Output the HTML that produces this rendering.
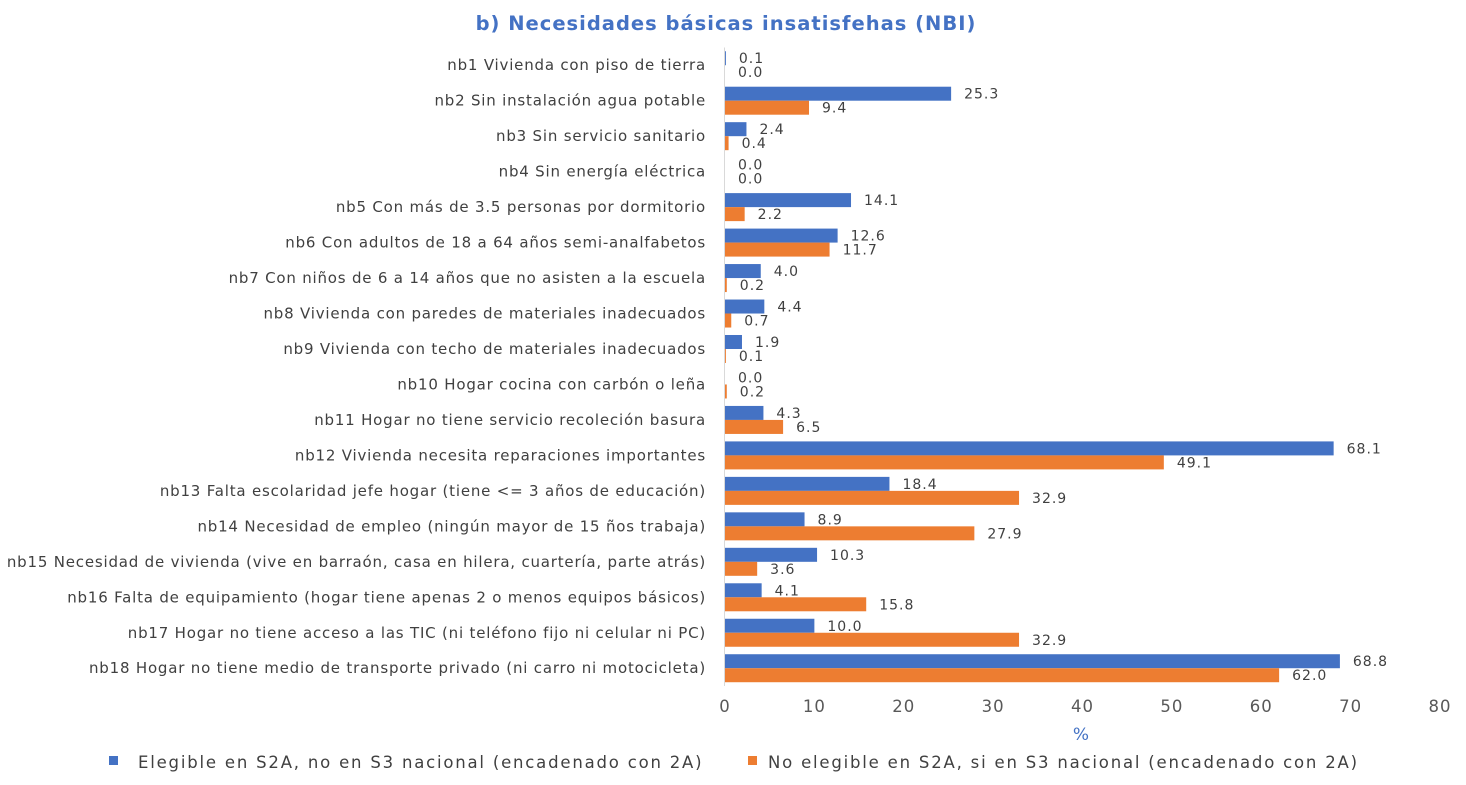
<!DOCTYPE html>
<html><head><meta charset="utf-8"><style>
html,body{margin:0;padding:0;background:#fff;}
svg{display:block;font-family:"DejaVu Sans","Liberation Sans",sans-serif;}
</style></head><body>
<svg id="chart" width="1466" height="785">
<text x="726" y="30" text-anchor="middle" font-size="19.5" font-weight="bold" letter-spacing="1" fill="#4472C4">b) Necesidades básicas insatisfehas (NBI)</text>
<g id="plot"></g>
<text x="1081" y="740" text-anchor="middle" font-size="17" fill="#4472C4">%</text>
<g>
<rect x="109" y="756" width="9" height="9" fill="#4472C4"></rect>
<text x="138" y="768" font-size="16.5" letter-spacing="1.8" fill="#404040">Elegible en S2A, no en S3 nacional (encadenado con 2A)</text>
<rect x="748" y="756" width="9" height="9" fill="#ED7D31"></rect>
<text x="768" y="768" font-size="16.5" letter-spacing="1.8" fill="#404040">No elegible en S2A, si en S3 nacional (encadenado con 2A)</text>
</g>
</svg>
<script>
const categories=["nb1 Vivienda con piso de tierra","nb2 Sin instalación agua potable","nb3 Sin servicio sanitario","nb4 Sin energía eléctrica","nb5 Con más de 3.5 personas por dormitorio","nb6 Con adultos de 18 a 64 años semi-analfabetos","nb7 Con niños de 6 a 14 años que no asisten a la escuela","nb8 Vivienda con paredes de materiales inadecuados","nb9 Vivienda con techo de materiales inadecuados","nb10 Hogar cocina con carbón o leña","nb11 Hogar no tiene servicio recoleción basura","nb12 Vivienda necesita reparaciones importantes","nb13 Falta escolaridad jefe hogar (tiene <= 3 años de educación)","nb14 Necesidad de empleo (ningún mayor de 15 ños trabaja)","nb15 Necesidad de vivienda (vive en barraón, casa en hilera, cuartería, parte atrás)","nb16 Falta de equipamiento (hogar tiene apenas 2 o menos equipos básicos)","nb17 Hogar no tiene acceso a las TIC (ni teléfono fijo ni celular ni PC)","nb18 Hogar no tiene medio de transporte privado (ni carro ni motocicleta)"];
const eligible=[0.1,25.3,2.4,0.0,14.1,12.6,4.0,4.4,1.9,0.0,4.3,68.1,18.4,8.9,10.3,4.1,10.0,68.8];
const noEligible=[0.0,9.4,0.4,0.0,2.2,11.7,0.2,0.7,0.1,0.2,6.5,49.1,32.9,27.9,3.6,15.8,32.9,62.0];
const xTicks=[0,10,20,30,40,50,60,70,80];
const NS="http://www.w3.org/2000/svg";
const x0=725,x1=1440,xMax=80;
const xs=v=>x0+(v/xMax)*(x1-x0);
const yTop=47.5,band=35.47;
const yc=i=>yTop+band*(i+0.5);
const g=document.getElementById('plot');
function mk(t,a){const e=document.createElementNS(NS,t);for(const k in a)e.setAttribute(k,a[k]);return e;}
categories.forEach((c,i)=>{
  const cy=yc(i);
  const lab=mk('text',{x:706,y:cy+5,'text-anchor':'end','font-size':15,'letter-spacing':0.8,fill:'#404040'});
  lab.textContent=c;
  
  
  g.appendChild(lab);
  const b=mk('rect',{x:x0,y:cy-14,width:Math.max(0,xs(eligible[i])-x0),height:14,fill:'#4472C4'});
  
  
  g.appendChild(b);
  const o=mk('rect',{x:x0,y:cy,width:Math.max(0,xs(noEligible[i])-x0),height:14,fill:'#ED7D31'});
  
  
  g.appendChild(o);
  const t1=mk('text',{x:xs(eligible[i])+13,y:cy-2,'font-size':14,'letter-spacing':1,fill:'#404040'});
  t1.textContent=eligible[i].toFixed(1);
  
  
  g.appendChild(t1);
  const t2=mk('text',{x:xs(noEligible[i])+13,y:cy+12,'font-size':14,'letter-spacing':1,fill:'#404040'});
  t2.textContent=noEligible[i].toFixed(1);
  
  
  g.appendChild(t2);
});
const ax=mk('line',{x1:x0-0.5,x2:x0-0.5,y1:yTop,y2:yTop+band*18,stroke:'#D9D9D9','stroke-width':1});


g.appendChild(ax);
xTicks.forEach(v=>{
  const t=mk('text',{x:xs(v),y:712,'text-anchor':'middle','font-size':16.5,'letter-spacing':1,fill:'#595959'});
  t.textContent=v;
  
  
  g.appendChild(t);
});
</script>
</body></html>
